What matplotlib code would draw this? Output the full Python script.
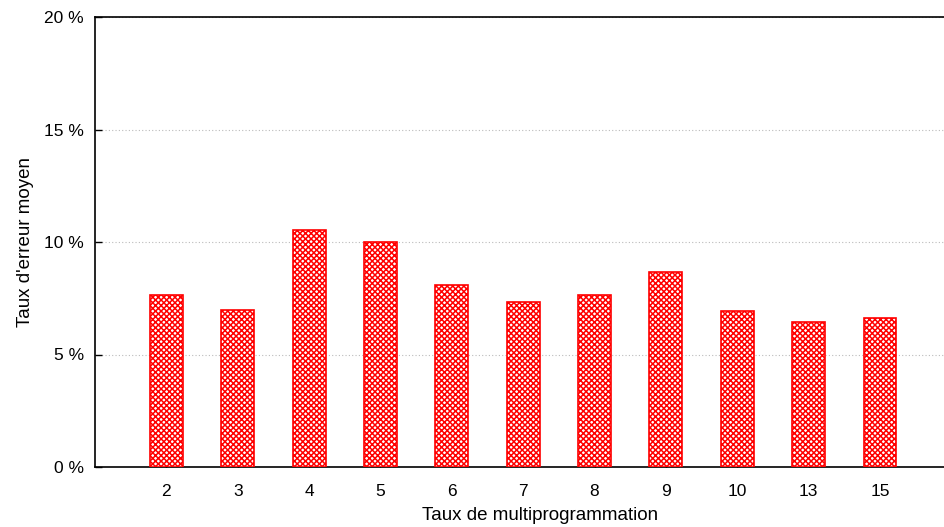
import matplotlib
matplotlib.use("Agg")
import matplotlib.pyplot as plt
import numpy as np

plt.rcParams['font.family'] = ['Liberation Sans', 'DejaVu Sans']
plt.rcParams['hatch.linewidth'] = 1.1
plt.rcParams['hatch.color'] = 'red'

categories = ["2", "3", "4", "5", "6", "7", "8", "9", "10", "13", "15"]
values = [7.64, 6.98, 10.53, 10.0, 8.09, 7.33, 7.64, 8.67, 6.93, 6.44, 6.62]
yticks = [0, 5, 10, 15, 20]
ytick_labels = ["0 %", "5 %", "10 %", "15 %", "20 %"]

fig = plt.figure(figsize=(9.44, 5.27), dpi=100)
ax = fig.add_axes([95/944, 1 - 467/527, (944 - 95)/944, (467 - 17)/527])

x = np.arange(len(categories))
ax.bar(x, values, width=0.46, facecolor='white', edgecolor='red',
       hatch='xxxxxx', linewidth=1.2, zorder=3)

ax.set_xlim(-1, 10.897)
ax.set_ylim(0, 20)
ax.set_xticks(x)
ax.set_xticklabels(categories, fontsize=12.5)
ax.set_yticks(yticks)
ax.set_yticklabels(ytick_labels, fontsize=12.5)
ax.tick_params(axis='y', direction='in', length=5, width=1, pad=8)
ax.tick_params(axis='x', direction='in', length=5, width=1, pad=12)
ax.grid(axis='y', linestyle=(0, (1, 2)), color='#bbbbbb', linewidth=0.8, zorder=0)
for s in ['left', 'bottom', 'top']:
    ax.spines[s].set_linewidth(1.2)
ax.spines['right'].set_visible(False)
ax.set_xlabel("Taux de multiprogrammation", fontsize=13.5)
ax.xaxis.set_label_coords((540 - 95) / 849, -(515 - 467) / 450, transform=ax.transAxes)
ax.xaxis.label.set_va('center')
ax.set_ylabel("Taux d'erreur moyen", fontsize=13.5, labelpad=7)

fig.savefig("out.png", dpi=100)
